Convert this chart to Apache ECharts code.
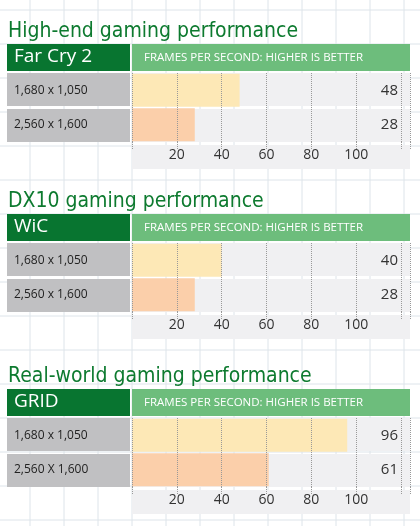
<!DOCTYPE html><html><head><meta charset="utf-8"><script src="https://cdn.jsdelivr.net/npm/echarts@6/dist/echarts.min.js"></script>
<style>html,body{margin:0;padding:0;background:#fff}#c{width:420px;height:526px}</style></head><body><div id="c"></div><script>
var titles=['High-end gaming performance','DX10 gaming performance','Real-world gaming performance'];
var games=['Far Cry 2','WiC','GRID'];
var categories=[['1,680 x 1,050','2,560 x 1,600'],['1,680 x 1,050','2,560 x 1,600'],['1,680 x 1,050','2,560 X 1,600']];
var values=[[48,28],[40,28],[96,61]];
var tickLabels=[20,40,60,80,100];
var header='FRAMES PER SECOND: HIGHER IS BETTER';
var tops=[73,243,418];
var AXMAX=124;
var chart=echarts.init(document.getElementById('c'));
var g=[],grids=[],xs=[],ys=[],series=[];
for(var x=30;x<420;x+=34)g.push({type:'line',silent:true,shape:{x1:x,y1:0,x2:x,y2:526},style:{stroke:'#dde4ea',lineWidth:1},z:-10});
for(var y=10;y<526;y+=34)g.push({type:'line',silent:true,shape:{x1:0,y1:y,x2:420,y2:y},style:{stroke:'#dde4ea',lineWidth:1},z:-10});
tops.forEach(function(t,i){
  g.push({type:'text',style:{text:titles[i],x:8,y:t-52,font:'500 21px "Liberation Sans Narrow", "DejaVu Sans Condensed", sans-serif',fill:'#0d7a2f'}});
  g.push({type:'rect',shape:{x:7,y:t-29,width:123,height:27},style:{fill:'#087530'}});
  g.push({type:'rect',shape:{x:132,y:t-29,width:278,height:27},style:{fill:'#6dbd7c'}});
  g.push({type:'text',style:{text:games[i],x:14,y:t-16,verticalAlign:'middle',font:'500 19px "Open Sans", sans-serif',fill:'#fff'}});
  g.push({type:'text',style:{text:header,x:144,y:t-15,verticalAlign:'middle',font:'500 11.5px "Open Sans", sans-serif',fill:'#fff'}});
  [0,36].forEach(function(d){
    g.push({type:'rect',shape:{x:7,y:t+d,width:123,height:33},style:{fill:'#c0c0c2'},z:-2});
    g.push({type:'rect',shape:{x:132,y:t+d,width:278,height:33},style:{fill:'#f0f0f2'},z:-2});
  });
  g.push({type:'rect',shape:{x:132,y:t+72,width:278,height:24},style:{fill:'#f0f0f2'},z:-2});
  grids.push({left:132,width:278,top:t,height:69});
  xs.push({type:'value',gridIndex:i,min:0,max:AXMAX,interval:20,axisLine:{show:false},
    axisTick:{show:true,length:7,lineStyle:{type:'dotted',color:'#999'}},
    splitLine:{show:true,lineStyle:{type:'dotted',color:'#999'}},
    axisLabel:{margin:6,fontSize:14,color:'#333',fontFamily:'"Open Sans", sans-serif',formatter:function(v){return tickLabels.indexOf(v)>=0?String(v):'';}}});
  ys.push({type:'category',gridIndex:i,inverse:true,data:categories[i],axisLine:{show:false},axisTick:{show:false},
    axisLabel:{align:'left',margin:118,fontSize:12,color:'#222',fontFamily:'"Open Sans", sans-serif'}});
  series.push({type:'bar',xAxisIndex:i,yAxisIndex:i,barWidth:33,silent:true,z:-1,
    data:values[i].map(function(v,j){return {value:v,itemStyle:{color:j?'#fbcfaa':'#fde8b6'}};})});
  series.push({type:'bar',xAxisIndex:i,yAxisIndex:i,barWidth:33,barGap:'-100%',silent:true,z:-1,
    itemStyle:{color:'rgba(0,0,0,0)'},
    label:{show:true,position:'insideRight',distance:12,fontSize:15,color:'#333',fontFamily:'"Open Sans", sans-serif',
      formatter:(function(vals){return function(p){return String(vals[p.dataIndex]);};})(values[i])},
    data:values[i].map(function(){return AXMAX;})});
});
chart.setOption({animation:false,grid:grids,xAxis:xs,yAxis:ys,series:series,graphic:g});
</script></body></html>
